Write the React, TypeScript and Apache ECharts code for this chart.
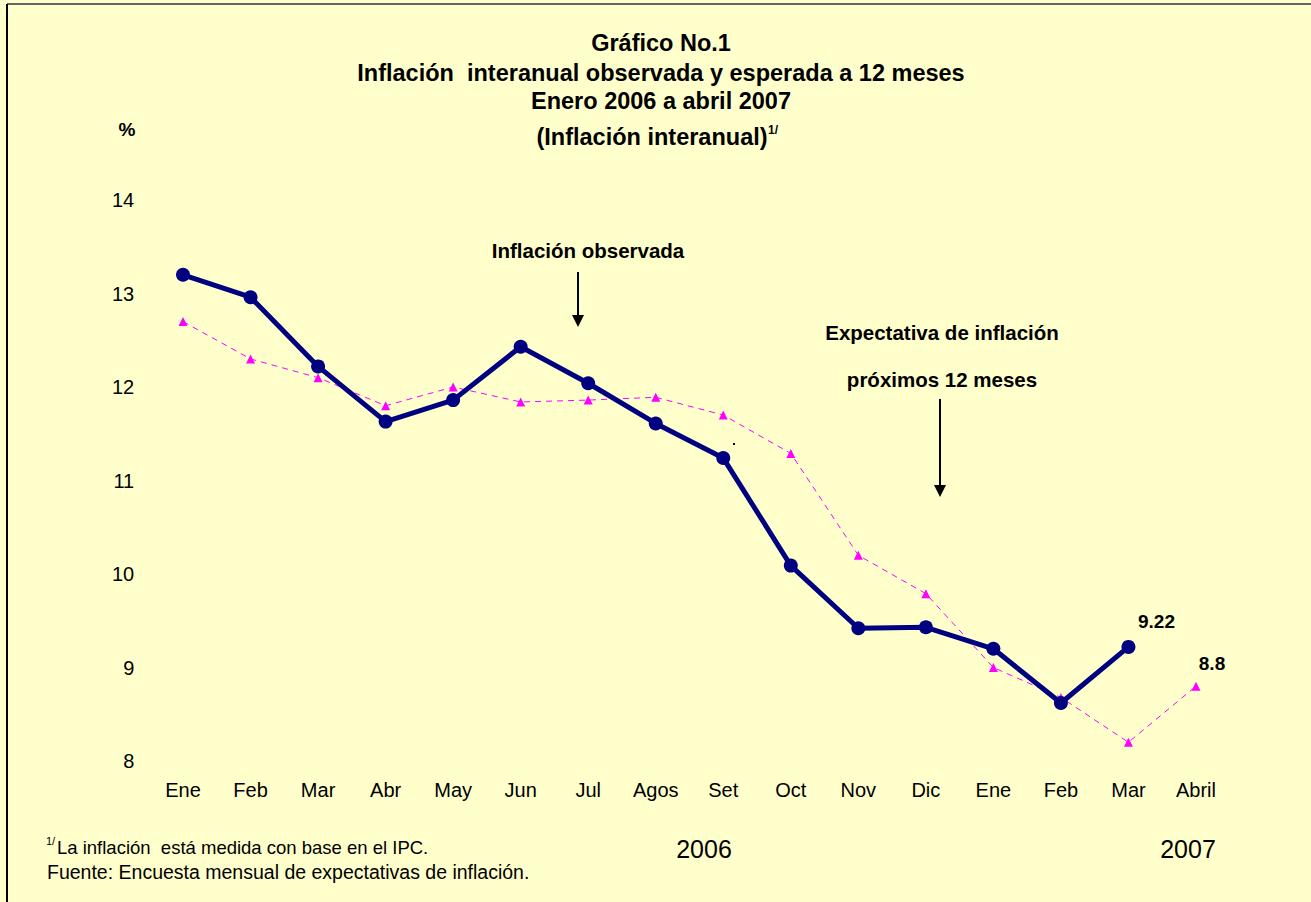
import React, { useEffect, useRef } from "react";
import * as echarts from "echarts";

const categories = ["Ene", "Feb", "Mar", "Abr", "May", "Jun", "Jul", "Agos", "Set", "Oct", "Nov", "Dic", "Ene", "Feb", "Mar", "Abril"];
const observada = [13.2, 12.96, 12.22, 11.63, 11.86, 12.43, 12.04, 11.61, 11.24, 10.09, 9.42, 9.43, 9.2, 8.62, 9.22, null];
const esperada = [12.7, 12.3, 12.1, 11.8, 12.0, 11.84, 11.86, 11.89, 11.7, 11.29, 10.2, 9.79, 9.0, 8.68, 8.2, 8.8];
const yMin = 8;
const yMax = 14;
const yInterval = 1;

const FONT = "'Liberation Sans', Arial, sans-serif";

export default function App() {
  const ref = useRef<HTMLDivElement>(null);
  useEffect(() => {
    if (!ref.current) return;
    const chart = echarts.init(ref.current, undefined, { renderer: "svg" });
    const lastObs = observada.length - 2;
    const lastExp = esperada.length - 1;
    const bold = (size: number) => ({ fontSize: size, fontWeight: "bold", fontFamily: FONT, fill: "#000" });
    const norm = (size: number) => ({ fontSize: size, fontFamily: FONT, fill: "#000" });
    chart.setOption({
      animation: false,
      backgroundColor: "#FFFFCC",
      textStyle: { fontFamily: FONT },
      grid: { left: 149.25, right: 81.25, top: 200, bottom: 141 },
      xAxis: {
        type: "category",
        data: categories,
        boundaryGap: true,
        axisLine: { show: false },
        axisTick: { show: false },
        axisLabel: { color: "#000", fontSize: 20, fontFamily: FONT, margin: 19 },
      },
      yAxis: {
        type: "value",
        min: yMin,
        max: yMax,
        interval: yInterval,
        axisLine: { show: false },
        axisTick: { show: false },
        splitLine: { show: false },
        axisLabel: { color: "#000", fontSize: 20, fontFamily: FONT, margin: 15 },
      },
      series: [
        {
          name: "Expectativa",
          type: "line",
          data: esperada.map((v, i) =>
            i === lastExp
              ? { value: v, label: { show: true, position: "top", offset: [16, -4], formatter: "{c}", color: "#000", fontSize: 19, fontWeight: "bold", fontFamily: FONT } }
              : v
          ),
          symbol: "triangle",
          symbolSize: 9,
          lineStyle: { color: "#FF00FF", width: 1, type: [6, 5] },
          itemStyle: { color: "#FF00FF" },
          z: 2,
        },
        {
          name: "Observada",
          type: "line",
          data: observada.map((v, i) =>
            i === lastObs
              ? { value: v, label: { show: true, position: "top", offset: [28, -4], formatter: "{c}", color: "#000", fontSize: 19, fontWeight: "bold", fontFamily: FONT } }
              : v
          ),
          symbol: "circle",
          symbolSize: 14,
          lineStyle: { color: "#000080", width: 5 },
          itemStyle: { color: "#000080" },
          z: 3,
        },
      ],
      graphic: [
        { type: "line", shape: { x1: 7, y1: 4, x2: 1320, y2: 4 }, style: { stroke: "#666", lineWidth: 2 } },
        { type: "line", shape: { x1: 7, y1: 4, x2: 7, y2: 910 }, style: { stroke: "#000", lineWidth: 2 } },
        { type: "text", x: 661, y: 43, style: { text: "Gráfico No.1", ...bold(23.5), align: "center", verticalAlign: "middle" } },
        { type: "text", x: 661, y: 73, style: { text: "Inflación  interanual observada y esperada a 12 meses", ...bold(23.5), align: "center", verticalAlign: "middle" } },
        { type: "text", x: 661, y: 101, style: { text: "Enero 2006 a abril 2007", ...bold(23.5), align: "center", verticalAlign: "middle" } },
        { type: "text", x: 652, y: 137, style: { text: "(Inflación interanual)", ...bold(23.5), align: "center", verticalAlign: "middle" } },
        { type: "text", x: 768, y: 130, style: { text: "1/", ...bold(12), align: "left", verticalAlign: "middle" } },
        { type: "text", x: 127, y: 129, style: { text: "%", ...bold(19), align: "center", verticalAlign: "middle" } },
        { type: "text", x: 588, y: 250, style: { text: "Inflación observada", ...bold(20.5), align: "center", verticalAlign: "middle" } },
        { type: "line", shape: { x1: 578, y1: 272, x2: 578, y2: 318 }, style: { stroke: "#000", lineWidth: 2 } },
        { type: "polygon", shape: { points: [[572, 315], [584, 315], [578, 327]] }, style: { fill: "#000" } },
        { type: "text", x: 942, y: 332, style: { text: "Expectativa de inflación", ...bold(20.5), align: "center", verticalAlign: "middle" } },
        { type: "text", x: 942, y: 379, style: { text: "próximos 12 meses", ...bold(20.5), align: "center", verticalAlign: "middle" } },
        { type: "line", shape: { x1: 940, y1: 399, x2: 940, y2: 488 }, style: { stroke: "#000", lineWidth: 2 } },
        { type: "polygon", shape: { points: [[934, 485], [946, 485], [940, 497]] }, style: { fill: "#000" } },
        { type: "rect", shape: { x: 733, y: 443, width: 2, height: 2 }, style: { fill: "#000" } },
        { type: "text", x: 704, y: 849, style: { text: "2006", ...norm(25), align: "center", verticalAlign: "middle" } },
        { type: "text", x: 1188, y: 849, style: { text: "2007", ...norm(25), align: "center", verticalAlign: "middle" } },
        { type: "text", x: 46, y: 841, style: { text: "1/", ...norm(11), align: "left", verticalAlign: "middle" } },
        { type: "text", x: 57, y: 847, style: { text: "La inflación  está medida con base en el IPC.", ...norm(18.5), align: "left", verticalAlign: "middle" } },
        { type: "text", x: 47, y: 872, style: { text: "Fuente: Encuesta mensual de expectativas de inflación.", ...norm(19.5), align: "left", verticalAlign: "middle" } },
      ],
    });
    return () => chart.dispose();
  }, []);
  return <div ref={ref} style={{ position: "absolute", left: 0, top: 0, width: 1311, height: 902 }} />;
}
